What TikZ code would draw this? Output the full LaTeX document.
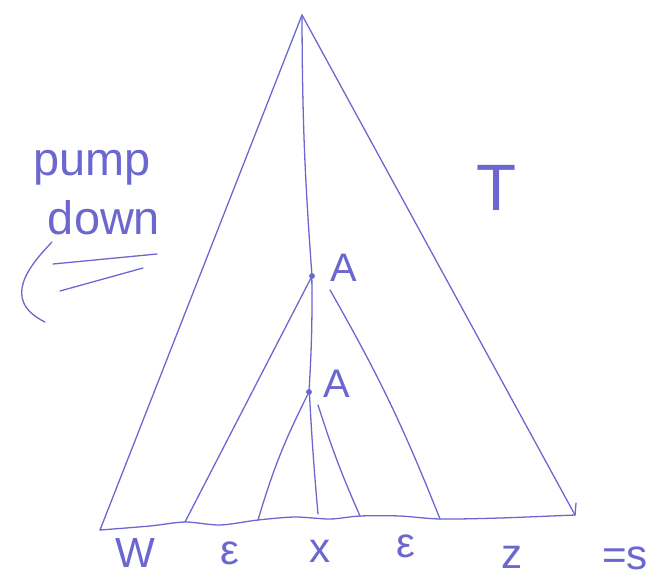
\documentclass[tikz,border=0pt]{standalone}
\usepackage{fontspec}
\setmainfont{Liberation Sans}
\usetikzlibrary{positioning}
\definecolor{pen}{RGB}{108,102,208}

\begin{document}
\begin{tikzpicture}[
  x=0.03cm, y=-0.03cm,
  stroke/.style={draw=pen, line width=1.1pt, line cap=round, line join=round},
  lbl/.style={text=pen, inner sep=0pt, font=\fontsize{#1}{#1}\selectfont},
  knot/.style={circle, fill=pen, inner sep=0pt, minimum size=5pt}
]
\useasboundingbox (0,0) rectangle (671,586);

% tree points
\coordinate (root) at (302,15);
\node[knot] (a1) at (312,276) {};
\node[knot] (a2) at (309,392) {};
\coordinate (a1r) at (330,290);
\coordinate (a2r) at (318,405);
\coordinate (lb) at (100,530);
\coordinate (l1) at (185,522);
\coordinate (l2) at (258,520);
\coordinate (mx) at (318,514);
\coordinate (r2) at (360,516);
\coordinate (r1) at (440,519);
\coordinate (rb) at (575,515);

% labels
\node[lbl=34] (A1) at (344,268) {A};
\node[lbl=34] (A2) at (337,384) {A};
\node[lbl=56] (T) at (497,188) {T};
\node[lbl=40] (pump) at (92,168) {pump};
\node[lbl=40] (down) at (104,218) {down};
\node[lbl=36] (u) at (135,553) {W};
\node[lbl=36] (v) at (230,553) {ε};
\node[lbl=36] (x) at (320,551) {x};
\node[lbl=36] (y) at (406,546) {ε};
\node[lbl=36] (z) at (512,557) {z};
\node[lbl=36] (s) at (625,558) {=s};

% outer triangle
\draw[stroke] (root) -- (lb);
\draw[stroke] (root) -- (rb);
\draw[stroke] (root) to[bend right=2] (a1) to[bend left=2] (a2) to[bend right=1] (mx);
% upper A
\draw[stroke] (a1) -- (l1);
\draw[stroke] (a1r) to[bend left=4] (r1);
% lower A
\draw[stroke] (a2) to[bend right=5] (l2);
\draw[stroke] (a2r) to[bend right=3] (r2);
% yield line
\draw[stroke] plot[smooth] coordinates {(lb) (150,526) (l1) (220,525) (l2) (295,517) (330,519) (r2) (400,516) (r1) (500,518) (rb)};
\draw[stroke] (rb) -- ++(1,-12);

% pump down gesture
\coordinate (g1) at (52,242);
\coordinate (g2) at (45,322);
\draw[stroke] (g1) .. controls (30,265) and (0,300) .. (g2);
\coordinate (h1) at (53,264);
\coordinate (h2) at (157,254);
\coordinate (k1) at (60,291);
\coordinate (k2) at (143,268);
\draw[stroke] (h1) -- (h2);
\draw[stroke] (k1) -- (k2);
\end{tikzpicture}
\end{document}
